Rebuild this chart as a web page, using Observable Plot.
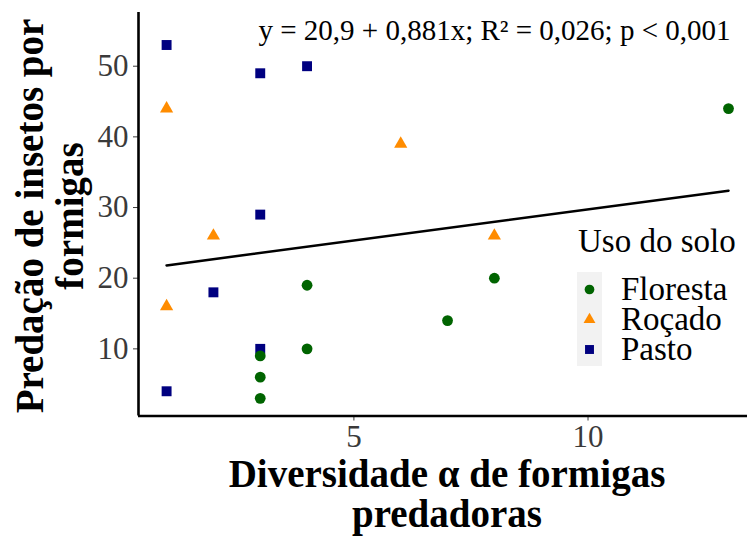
<!DOCTYPE html>
<html>
<head>
<meta charset="utf-8">
<script src="https://cdn.jsdelivr.net/npm/d3@7"></script>
<script src="https://cdn.jsdelivr.net/npm/@observablehq/plot@0.6"></script>
<style>
  body { margin: 0; background: #fff; }
  #chart { position: relative; width: 747px; height: 536px; }
</style>
</head>
<body>
<div id="chart"></div>
<script>
// Land-use groups, in legend order
const usoDoSolo = ["Floresta", "Roçado", "Pasto"];
const cores = ["#006400", "#FF8C00", "#000080"];
const simbolos = ["circle", "triangle", "square"];

// Predator-ant alpha diversity (x) and insect predation by ants (y), per group
const florestaX = [13, 8, 4, 7, 4, 3, 3, 3];
const florestaY = [44, 20, 19, 14, 10, 9, 6, 3];
const rocadoX = [1, 6, 2, 8, 1];
const rocadoY = [44, 39, 26, 26, 16];
const pastoX = [1, 3, 4, 3, 2, 3, 1];
const pastoY = [53, 49, 50, 29, 18, 10, 4];

const xTicks = [5, 10];
const yTicks = [10, 20, 30, 40, 50];

const equacao = "y = 20,9 + 0,881x; R² = 0,026; p < 0,001";
const tituloX = ["Diversidade α de formigas", "predadoras"];
const tituloY = ["Predação de insetos por", "formigas"];
const tituloLegenda = "Uso do solo";

// Long table built from the arrays above
const grupos = [
  { uso: "Floresta", xs: florestaX, ys: florestaY },
  { uso: "Roçado", xs: rocadoX, ys: rocadoY },
  { uso: "Pasto", xs: pastoX, ys: pastoY }
];
const dados = grupos.flatMap(g => g.xs.map((x, i) => ({ uso: g.uso, x, y: g.ys[i] })));

const corDe = u => cores[usoDoSolo.indexOf(u)];
const simboloDe = u => simbolos[usoDoSolo.indexOf(u)];
const raio = { Floresta: 5.4, "Roçado": 4.9, Pasto: 5.6 };

const fonte = "Liberation Serif, Times New Roman, serif";

const pontos = (uso) => Plot.dot(dados.filter(d => d.uso === uso), {
  x: "x", y: "y", r: raio[uso], symbol: simboloDe(uso), fill: corDe(uso)
});

const svg = Plot.plot({
  width: 747,
  height: 536,
  marginLeft: 138,
  marginRight: 0,
  marginTop: 12,
  marginBottom: 120.5,
  style: { fontFamily: fonte, background: "#fff", overflow: "visible" },
  x: { domain: [0.4, 13.406] },
  y: { domain: [0.5, 57.6] },
  marks: [
    Plot.axisX({ ticks: xTicks, tickSize: 5, tickPadding: 4, fontSize: 31, color: "#3a3a3a", label: null }),
    Plot.axisY({ ticks: yTicks, tickSize: 5, tickPadding: 5, fontSize: 31, color: "#3a3a3a", label: null }),
    Plot.ruleX([0.4], { stroke: "black", strokeWidth: 2.6 }),
    Plot.ruleY([0.5], { stroke: "black", strokeWidth: 2.6 }),
    pontos("Pasto"),
    pontos("Roçado"),
    pontos("Floresta"),
    Plot.linearRegressionY(dados, { x: "x", y: "y", stroke: "black", strokeWidth: 2.6, ci: 0 }),
    Plot.text([equacao], {
      text: d => d, frameAnchor: "top-right", textAnchor: "end", lineAnchor: "middle",
      dx: -17, dy: 18, fontSize: 29, fill: "black"
    })
  ]
});

const raiz = d3.select(svg);

// Axis titles (bold, two lines each)
const titulos = raiz.append("g")
  .attr("font-family", fonte).attr("font-weight", "bold").attr("font-size", 39)
  .attr("text-anchor", "middle").attr("fill", "black");
tituloX.forEach((linha, i) => {
  titulos.append("text").attr("x", 447).attr("y", 487 + i * 40).text(linha);
});
tituloY.forEach((linha, i) => {
  titulos.append("text").attr("transform", `translate(${43 + i * 40},216) rotate(-90)`).text(linha);
});

// Legend
const leg = raiz.append("g").attr("font-family", fonte).attr("text-anchor", "start").attr("fill", "black");
leg.append("text").attr("x", 578).attr("y", 252).attr("font-size", 33).text(tituloLegenda);
leg.append("rect").attr("x", 577).attr("y", 272).attr("width", 25).attr("height", 94).attr("fill", "#f2f2f2");
const simboloD3 = { circle: d3.symbolCircle, triangle: d3.symbolTriangle, square: d3.symbolSquare };
usoDoSolo.forEach((u, i) => {
  const cy = 289.5 + i * 30;
  const r = raio[u] * 0.9;
  leg.append("path")
    .attr("transform", `translate(589.5,${cy})`)
    .attr("d", d3.symbol(simboloD3[simbolos[i]], Math.PI * r * r)())
    .attr("fill", cores[i]);
  leg.append("text").attr("x", 621).attr("y", 300 + i * 30)
    .attr("font-size", 33).text(u);
});

document.getElementById("chart").appendChild(svg);
</script>
</body>
</html>
